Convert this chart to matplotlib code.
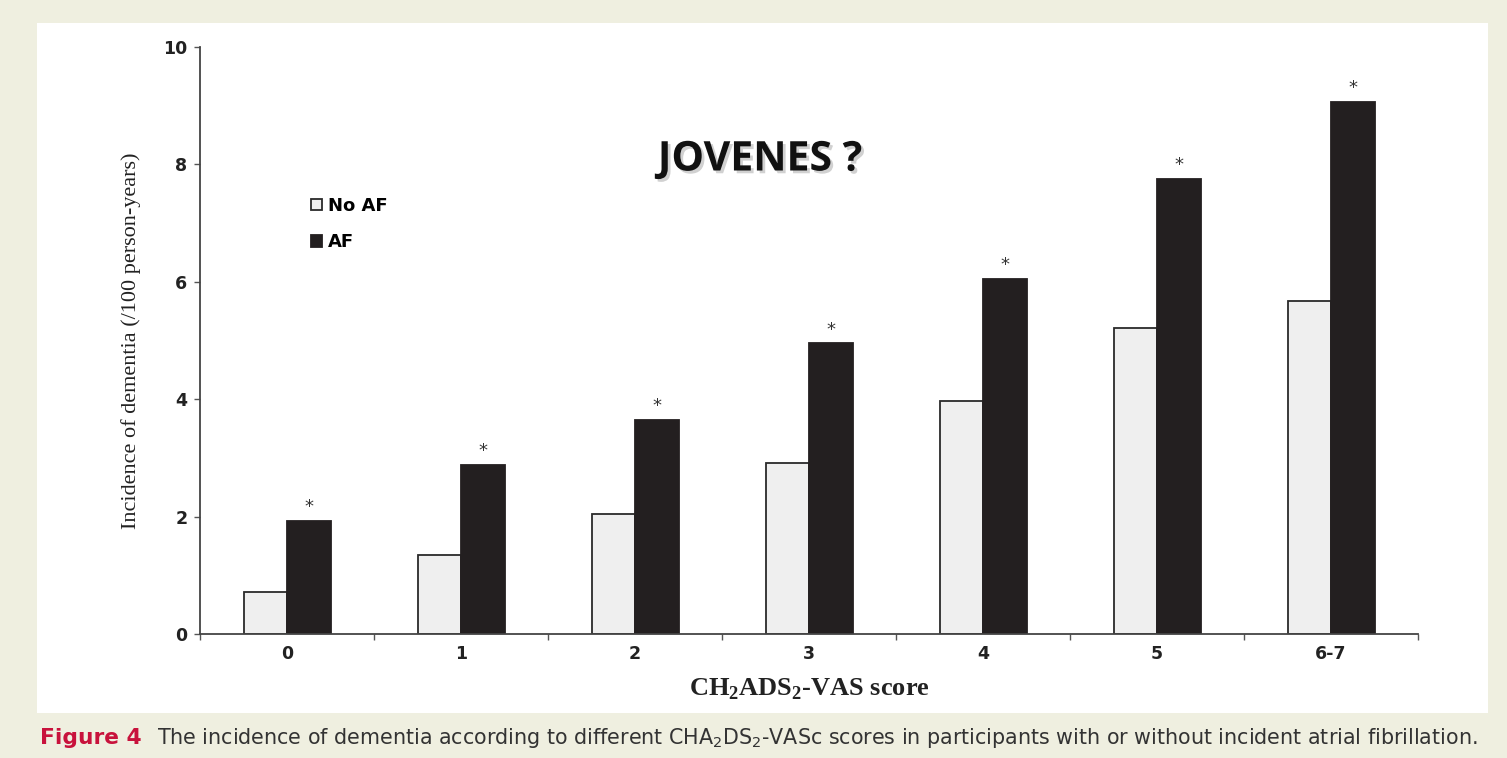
import matplotlib.pyplot as plt
import matplotlib.patheffects as pe
from matplotlib.patches import Rectangle
import numpy as np

# Data
scores = ["0", "1", "2", "3", "4", "5", "6-7"]
no_af = [0.72, 1.35, 2.05, 2.92, 3.97, 5.22, 5.67]
af = [1.93, 2.88, 3.65, 4.95, 6.05, 7.75, 9.07]
y_ticks = [0, 2, 4, 6, 8, 10]

plt.rcParams["mathtext.fontset"] = "custom"
plt.rcParams["mathtext.rm"] = "Liberation Serif:bold"

W, H = 1507, 758
fig = plt.figure(figsize=(W / 100, H / 100), dpi=100)
fig.patch.set_facecolor("#efefe0")

# white panel behind the chart
fig.patches.append(Rectangle((37 / W, 1 - 713 / H), (1488 - 37) / W, (713 - 23) / H,
                             transform=fig.transFigure, facecolor="white",
                             edgecolor="none", zorder=-5))

ax = fig.add_axes([200 / W, 124 / H, 1218 / W, 587 / H])
ax.set_facecolor("none")
ax.set_zorder(2)

x = np.arange(len(scores))
bw = 0.25
ax.bar(x - bw / 2, no_af, bw, color="#efefef", edgecolor="#2a2a2a", linewidth=1.3, label="No AF")
ax.bar(x + bw / 2, af, bw, color="#231f20", edgecolor="#231f20", linewidth=1.3, label="AF")

# significance marks above the AF bars
for xi, v in zip(x, af):
    ax.text(xi + bw / 2, v + 0.08, "*", ha="center", va="bottom", fontsize=13, color="#333333")

ax.set_xlim(-0.5, len(scores) - 0.5)
ax.set_ylim(0, 10)
ax.spines["top"].set_visible(False)
ax.spines["right"].set_visible(False)
ax.spines["left"].set_color("#444444")
ax.spines["bottom"].set_color("#444444")
ax.spines["left"].set_linewidth(1.3)
ax.spines["bottom"].set_linewidth(1.3)

ax.set_yticks(y_ticks)
ax.set_yticklabels([str(t) for t in y_ticks], fontsize=12.5, fontweight="bold",
                   family="DejaVu Sans", color="#222222")
ax.tick_params(axis="y", length=4, width=1, color="#555555", pad=5)

ax.set_xticks(x)
ax.set_xticklabels(scores, fontsize=12.5, fontweight="bold", family="DejaVu Sans",
                   color="#222222")
ax.set_xticks(np.arange(-0.5, len(scores)), minor=True)
ax.tick_params(axis="x", which="major", length=0, pad=8)
ax.tick_params(axis="x", which="minor", length=4, width=1, color="#555555")

ax.set_ylabel("Incidence of dementia (/100 person-years)", family="Liberation Serif",
              fontsize=16, color="#222222", labelpad=16)
ax.set_xlabel("CH$_2$ADS$_2$-VAS score", family="Liberation Serif", fontweight="bold",
              fontsize=19, color="#222222", labelpad=10)

ax.legend(loc="upper left", bbox_to_anchor=(0.078, 0.772), frameon=False,
          prop={"family": "DejaVu Sans", "weight": "bold", "size": 13},
          handlelength=0.6, handleheight=0.6, handletextpad=0.3, labelspacing=1.0)

# overlay title
fig.text(760 / W, 1 - 160 / H, "JOVENES ?", ha="center", va="center", fontsize=29.5,
         fontweight="bold", family="Open Sans", color="#111111", zorder=5,
         path_effects=[pe.withSimplePatchShadow(offset=(2, -2), shadow_rgbFace="#999999", alpha=0.45)])

# figure caption
cap_y = 1 - 738 / H
fig.text(40 / W, cap_y, "Figure 4", ha="left", va="center", fontsize=15.7,
         fontweight="heavy", family="DejaVu Sans", color="#c8123c")
fig.text(157 / W, cap_y,
         "The incidence of dementia according to different CHA$_2$DS$_2$-VASc scores in participants with or without incident atrial fibrillation.",
         ha="left", va="center", fontsize=14.9, family="DejaVu Sans", color="#333333",
         math_fontfamily="dejavusans")

fig.savefig("out.png", dpi=100)
